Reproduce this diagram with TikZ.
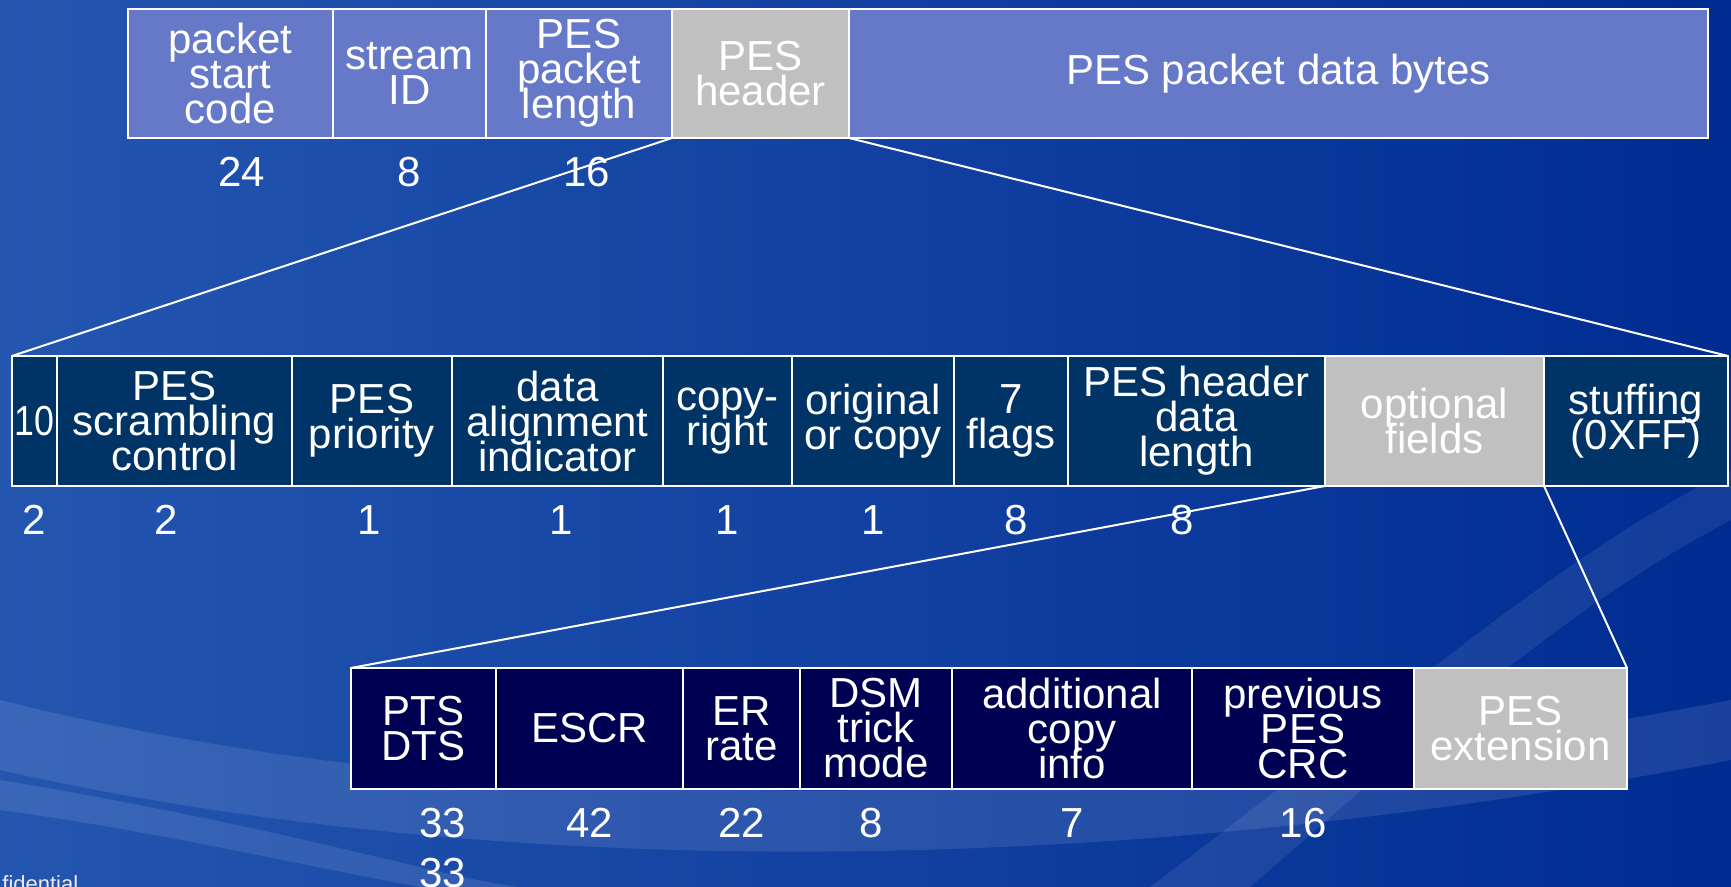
\documentclass[tikz,border=0pt]{standalone}
\usepackage{graphicx}
\usepackage{fontspec}
\setmainfont{Liberation Sans}
\usetikzlibrary{positioning}

\definecolor{pktblue}{RGB}{102,121,200}
\definecolor{hdrnavy}{RGB}{0,51,102}
\definecolor{optnavy}{RGB}{0,0,82}
\definecolor{optgray}{RGB}{192,192,192}
\definecolor{bgleft}{RGB}{36,86,176}
\definecolor{bgmid}{RGB}{0,52,158}
\definecolor{bgright}{RGB}{0,44,146}

\newcommand\fieldfont{\fontsize{21}{17.5}\selectfont\lineskiplimit=-\maxdimen}

\tikzset{
    field/.style={draw=white, line width=1pt, text=white, font=\fieldfont,
        align=center, inner sep=0pt, outer sep=0pt},
    pkt/.style={field, fill=pktblue, minimum height=64.5pt, minimum width=#1},
    hdrf/.style={field, fill=hdrnavy, minimum height=65pt, minimum width=#1},
    optf/.style={field, fill=optnavy, minimum height=60.5pt, minimum width=#1},
    greyed/.style={fill=optgray},
    bits/.style={text=white, font=\fieldfont, inner sep=0pt},
    link/.style={draw=white, line width=1pt},
}

\begin{document}
\begin{tikzpicture}[x=0.5pt, y=-0.5pt]
        \useasboundingbox (0,0) rectangle (1731,887);
        \clip (0,0) rectangle (1731,887);

        % background
        \shade[left color=bgleft, middle color=bgmid, right color=bgright]
            (0,0) rectangle (1731,887);
        \fill[white, opacity=.10] (0,700) .. controls (400,800) and (1000,840) .. (1731,700)
            -- (1731,760) .. controls (1000,900) and (400,860) .. (0,770) -- cycle;
        \fill[white, opacity=.10] (0,780) .. controls (300,830) and (450,880) .. (520,887)
            -- (420,887) .. controls (300,865) and (150,830) .. (0,810) -- cycle;
        \fill[white, opacity=.08] (1150,887) .. controls (1400,700) and (1550,560) .. (1731,470)
            -- (1731,520) .. controls (1560,610) and (1420,740) .. (1250,887) -- cycle;
        \node[anchor=north west, inner sep=0pt, text=white!85!gray,
            font=\fontsize{11}{13}\selectfont] (conf) at (2,875) {fidential};

        % PES packet
        \node[pkt=102.5pt, anchor=north west] (psc) at (128,9) {packet\\start\\code};
        \node[pkt=76.5pt, right=0pt of psc] (sid) {stream\\ID};
        \node[pkt=93pt, right=0pt of sid] (ppl) {PES\\packet\\length};
        \node[pkt=88.5pt, greyed, right=0pt of ppl] (hdr) {PES\\header};
        \node[pkt=429.5pt, right=0pt of hdr] (pdb) {PES packet data bytes};

        % PES header
        \node[hdrf=22.5pt, anchor=north west] (mk) at (12,356) {\scalebox{.85}[1]{10}};
        \node[hdrf=117.5pt, right=0pt of mk] (scr) {PES\\scrambling\\control};
        \node[hdrf=80pt, right=0pt of scr] (pri) {PES\\priority};
        \node[hdrf=105.5pt, right=0pt of pri] (dai) {data\\alignment\\indicator};
        \node[hdrf=64.5pt, right=0pt of dai] (cpr) {copy-\\right};
        \node[hdrf=81pt, right=0pt of cpr] (ooc) {original\\or copy};
        \node[hdrf=57pt, right=0pt of ooc] (flg) {7\\flags};
        \node[hdrf=128.5pt, right=0pt of flg] (hdl) {PES header\\data\\length};
        \node[hdrf=109.5pt, greyed, right=0pt of hdl] (opt) {optional\\fields};
        \node[hdrf=92pt, right=0pt of opt] (stf) {stuffing\\(0XFF)};

        % optional fields
        \node[optf=72.5pt, anchor=north west] (pts) at (351,668) {PTS\\DTS};
        \node[optf=93.5pt, right=0pt of pts] (escr) {ESCR};
        \node[optf=58.5pt, right=0pt of escr] (err) {ER\\rate};
        \node[optf=76pt, right=0pt of err] (dsm) {DSM\\trick\\mode};
        \node[optf=120pt, right=0pt of dsm] (aci) {additional\\copy\\info};
        \node[optf=111pt, right=0pt of aci] (crc) {previous\\PES\\CRC};
        \node[optf=106.5pt, greyed, right=0pt of crc] (ext) {PES\\extension};

        % bit counts
        \foreach \f/\n/\dx in {psc/24/5.5, sid/8/0, ppl/16/4,
            mk/2/0, scr/2/-4, pri/1/-1.5, dai/1/2, cpr/1/0, ooc/1/0, flg/8/2.5, hdl/8/-7,
            pts/33/9.5, escr/42/0, err/22/0, dsm/8/-2.5, aci/7/0, crc/16/0}{
            \node[bits, below=9.5pt of \f, xshift=\dx pt] (n-\f) {\n};
        }
        \node[bits, below=9.5pt of n-pts] (n-dts) {33};

        % expansions
        \draw[link] (hdr.south west) -- (mk.north west);
        \draw[link] (hdr.south east) -- (stf.north east);
        \draw[link] (opt.south west) -- (pts.north west);
        \draw[link] (opt.south east) -- (ext.north east);
\end{tikzpicture}
\end{document}
